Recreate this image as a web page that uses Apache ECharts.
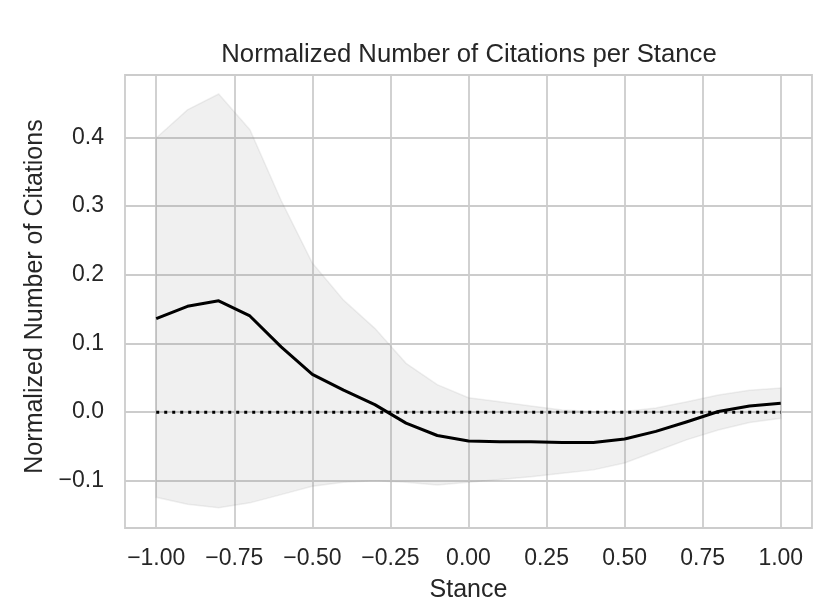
<!DOCTYPE html>
<html>
<head>
<meta charset="utf-8">
<script src="https://cdn.jsdelivr.net/npm/echarts@6/dist/echarts.min.js"></script>
<style>html,body{margin:0;padding:0;background:#fff}#c{width:830px;height:615px}</style>
</head>
<body>
<div id="c"></div>
<script>
const stance = [-1.0,-0.9,-0.8,-0.7,-0.6,-0.5,-0.4,-0.3,-0.2,-0.1,0.0,0.1,0.2,0.3,0.4,0.5,0.6,0.7,0.8,0.9,1.0];
const meanCitations = [0.136,0.154,0.162,0.140,0.095,0.055,0.032,0.011,-0.016,-0.034,-0.042,-0.043,-0.043,-0.044,-0.044,-0.039,-0.028,-0.014,0.001,0.009,0.013];
const upperBound = [0.399,0.440,0.463,0.411,0.308,0.217,0.163,0.122,0.071,0.040,0.021,0.015,0.009,0.003,0.001,0.001,0.006,0.015,0.025,0.032,0.035];
const lowerBound = [-0.124,-0.134,-0.139,-0.132,-0.120,-0.108,-0.102,-0.100,-0.102,-0.106,-0.102,-0.098,-0.094,-0.089,-0.084,-0.074,-0.057,-0.040,-0.026,-0.015,-0.009];
const zeroLine = [0,0];
const zeroLineX = [-1.0, 1.0];
const xTicks = [-1.0,-0.75,-0.5,-0.25,0,0.25,0.5,0.75,1.0];
const yTicks = [-0.1,0,0.1,0.2,0.3,0.4];

const minus = s => s.replace('-', '\u2212');
const txt = '#262626';
const font = 'Liberation Sans, Arial, sans-serif';
const gridColor = '#cccccc';
const bandColor = 'rgba(128,128,128,0.12)';

const chart = echarts.init(document.getElementById('c'));
chart.setOption({
  animation: false,
  backgroundColor: '#fff',
  title: {
    text: 'Normalized Number of Citations per Stance',
    left: 469, top: 42, textAlign: 'center', padding: 0,
    textStyle: {color: txt, fontFamily: font, fontSize: 25.7, fontWeight: 'normal'}
  },
  grid: {left: 125, right: 18, top: 75, bottom: 87, show: true, borderColor: gridColor, borderWidth: 1.8, backgroundColor: 'transparent'},
  xAxis: {
    type: 'value', min: -1.1, max: 1.1,
    name: 'Stance', nameLocation: 'middle', nameGap: 50,
    nameTextStyle: {color: txt, fontFamily: font, fontSize: 25},
    axisLine: {show: false}, axisTick: {show: false, customValues: xTicks},
    axisLabel: {customValues: xTicks, color: txt, fontFamily: font, fontSize: 23, margin: 19,
      formatter: v => minus(Number(v).toFixed(2))},
    splitLine: {show: true, lineStyle: {color: gridColor, width: 1.8}}
  },
  yAxis: {
    type: 'value', min: -0.1686, max: 0.4907,
    name: 'Normalized Number of Citations', nameLocation: 'middle', nameGap: 73, nameRotate: 90,
    nameTextStyle: {color: txt, fontFamily: font, fontSize: 25, padding: [0, 0, 0, 10]},
    axisLine: {show: false}, axisTick: {show: false, customValues: yTicks},
    axisLabel: {customValues: yTicks, color: txt, fontFamily: font, fontSize: 23, margin: 21,
      formatter: v => minus(Number(v).toFixed(1))},
    splitLine: {show: true, lineStyle: {color: gridColor, width: 1.8}}
  },
  series: [
    {
      type: 'custom', z: 3, clip: true,
      data: [[stance[0], upperBound[0]]],
      renderItem: function (params, api) {
        const pts = [];
        for (let i = 0; i < stance.length; i++) pts.push(api.coord([stance[i], upperBound[i]]));
        for (let i = stance.length - 1; i >= 0; i--) pts.push(api.coord([stance[i], lowerBound[i]]));
        return {
          type: 'polygon',
          shape: {points: pts},
          style: {fill: bandColor, stroke: bandColor, lineWidth: 1.5}
        };
      }
    },
    {
      type: 'line', symbol: 'none', z: 5,
      data: zeroLineX.map((x, i) => [x, zeroLine[i]]),
      lineStyle: {color: '#000', width: 3, type: [3, 5], cap: 'butt'}
    },
    {
      type: 'line', symbol: 'none', z: 6,
      data: stance.map((x, i) => [x, meanCitations[i]]),
      lineStyle: {color: '#000', width: 3, join: 'round'}
    }
  ]
});
</script>
</body>
</html>
